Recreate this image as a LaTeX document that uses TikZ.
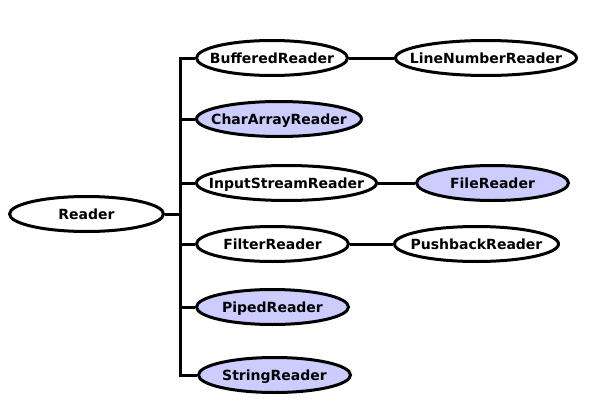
\documentclass[tikz,border=0pt]{standalone}
\usepackage{fontspec}
\setmainfont{DejaVu Sans}
\usetikzlibrary{shapes.geometric}
\definecolor{lav}{HTML}{CCCCFF}
\newcommand{\lbl}[1]{\makebox[0pt]{#1}}
\tikzset{
  cls/.style={ellipse, draw=black, line width=3pt, fill=white, inner sep=0pt,
    minimum height=35pt, text height=10.5pt, text depth=0pt,
    font=\fontsize{14}{16}\selectfont\bfseries},
  leaf/.style={cls, fill=lav},
  conn/.style={line width=3pt, line join=miter}
}
\begin{document}
\begin{tikzpicture}[x=1pt,y=-1pt]
\useasboundingbox (0,0) rectangle (600,415);
\coordinate (t) at (180,0);
\node[cls, minimum width=154pt] (R) at (86.5,214) {\lbl{Reader}};
\node[cls, minimum width=151pt] (BR) at (272,58) {\lbl{BufferedReader}};
\node[leaf, minimum width=165pt] (CAR) at (279,119) {\lbl{CharArrayReader}};
\node[cls, minimum width=180pt] (ISR) at (286.5,183) {\lbl{InputStreamReader}};
\node[cls, minimum width=152pt] (FR) at (272.5,244) {\lbl{FilterReader}};
\node[leaf, minimum width=152pt] (PR) at (272.5,307) {\lbl{PipedReader}};
\node[leaf, minimum width=152pt] (SR) at (274.5,375) {\lbl{StringReader}};
\node[cls, minimum width=181pt] (LNR) at (486,58) {\lbl{LineNumberReader}};
\node[leaf, minimum width=152pt] (FIR) at (492.5,183) {\lbl{FileReader}};
\node[cls, minimum width=164pt] (PBR) at (476.5,244) {\lbl{PushbackReader}};
\draw[conn] (BR.west) -- (BR.west -| t) -- (SR.west -| t) -- (SR.west);
\draw[conn] (R.east) -- (R.east -| t);
\draw[conn] (CAR.west) -- (CAR.west -| t);
\draw[conn] (ISR.west) -- (ISR.west -| t);
\draw[conn] (FR.west) -- (FR.west -| t);
\draw[conn] (PR.west) -- (PR.west -| t);
\draw[conn] (BR) -- (LNR);
\draw[conn] (ISR) -- (FIR);
\draw[conn] (FR) -- (PBR);
\end{tikzpicture}
\end{document}
